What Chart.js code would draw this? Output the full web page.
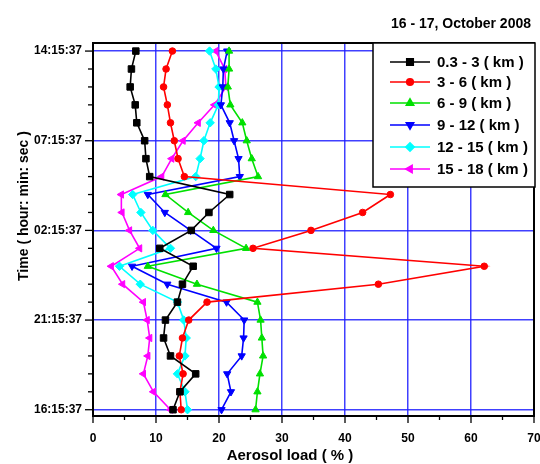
<!DOCTYPE html>
<html>
<head>
<meta charset="utf-8">
<script src="https://cdn.jsdelivr.net/npm/chart.js@4/dist/chart.umd.min.js"></script>
<style>
  body { margin: 0; background: #fff; }
  canvas { display: block; }
</style>
</head>
<body>
<canvas id="chart" width="540" height="464"></canvas>
<script>
// Данные: индекс 0 = 16:15:37 (низ), 20 = 14:15:37 (верх)
const timeTickLabels = ['16:15:37', '21:15:37', '02:15:37', '07:15:37', '14:15:37'];
const seriesNames = ['0.3 - 3 ( km )', '3 - 6 ( km )', '6 - 9 ( km )', '9 - 12 ( km )', '12 - 15 ( km )', '15 - 18 ( km )'];

const load03_3 = [12.7, 13.8, 16.3, 12.3, 11.2, 11.5, 13.4, 14.2, 15.9, 10.6, 15.6, 18.4, 21.7, 9.0, 8.4, 8.2, 6.95, 6.7, 5.9, 6.1, 6.8];
const load3_6 = [14.0, 13.8, 14.3, 13.7, 14.2, 15.2, 18.1, 45.3, 62.1, 25.4, 34.6, 42.8, 47.2, 14.5, 13.5, 12.9, 12.3, 11.8, 11.2, 11.6, 12.6];
const load6_9 = [25.8, 26.1, 26.5, 27.0, 26.8, 26.6, 26.1, 16.5, 8.7, 24.3, 19.1, 15.1, 11.5, 26.2, 25.2, 24.4, 23.7, 21.8, 21.4, 21.6, 21.6];
const load9_12 = [20.4, 21.9, 21.3, 23.6, 23.9, 24.0, 21.2, 11.8, 6.2, 19.6, 15.5, 11.4, 8.7, 23.3, 23.1, 22.4, 21.7, 20.3, 20.6, 20.7, 21.3];
const load12_15 = [15.0, 14.6, 13.4, 14.6, 14.8, 14.4, 13.4, 7.5, 4.2, 12.3, 9.5, 7.6, 6.3, 16.3, 17.0, 17.6, 18.6, 19.9, 20.0, 19.5, 18.5];
const load15_18 = [12.3, 9.6, 8.0, 8.7, 9.0, 8.6, 8.0, 4.7, 2.9, 7.4, 5.8, 4.6, 4.5, 10.9, 12.5, 14.3, 16.7, 19.3, 21.1, 20.9, 19.5];

const FONT = "'Liberation Sans', Arial, sans-serif";
const GRID_BLUE = 'rgba(30, 30, 255, 0.85)';

function toPoints(values) {
    return values.map((v, i) => ({ x: v, y: i }));
}

function makeDataset(label, values, color, style, radius, rotation) {
    return {
        label: label,
        data: toPoints(values),
        borderColor: color,
        backgroundColor: color,
        borderWidth: 1.6,
        pointStyle: style,
        pointRadius: radius,
        pointRotation: rotation || 0,
        pointBorderWidth: 1,
        pointBorderColor: color,
        pointBackgroundColor: color,
        showLine: true,
        tension: 0
    };
}

const datasets = [
    makeDataset(seriesNames[0], load03_3, '#000000', 'rect', 4.6),
    makeDataset(seriesNames[1], load3_6, '#ff0000', 'circle', 3.3),
    makeDataset(seriesNames[2], load6_9, '#00e000', 'triangle', 4.2),
    makeDataset(seriesNames[3], load9_12, '#0000ff', 'triangle', 4.2, 180),
    makeDataset(seriesNames[4], load12_15, '#00ffff', 'rectRot', 4.2),
    makeDataset(seriesNames[5], load15_18, '#ff00ff', 'triangle', 4.2, 270)
];

// Рамка, засечки, подписи осей, легенда
const decorPlugin = {
    id: 'decor',
    afterDraw(chart) {
        const ctx = chart.ctx;
        const area = chart.chartArea;
        const xs = chart.scales.x;
        const ys = chart.scales.y;
        ctx.save();

        // засечки по X
        ctx.strokeStyle = '#000';
        ctx.lineWidth = 1.3;
        for (let v = 0; v <= 70; v += 5) {
            const px = xs.getPixelForValue(v);
            const len = v % 10 === 0 ? 7 : 4;
            ctx.beginPath();
            ctx.moveTo(px, area.bottom);
            ctx.lineTo(px, area.bottom + len);
            ctx.stroke();
        }
        // засечки по Y
        for (let i = 0; i <= 20; i++) {
            const py = ys.getPixelForValue(i);
            const len = i % 5 === 0 ? 8 : 5;
            ctx.beginPath();
            ctx.moveTo(area.left, py);
            ctx.lineTo(area.left - len, py);
            ctx.stroke();
        }

        // рамка
        ctx.lineWidth = 2;
        ctx.strokeRect(area.left, area.top, area.right - area.left, area.bottom - area.top);

        // подписи осей
        ctx.fillStyle = '#000';
        ctx.font = 'bold 15px ' + FONT;
        ctx.textAlign = 'center';
        ctx.textBaseline = 'middle';
        ctx.fillText('Aerosol load ( % )', 290, 456);

        ctx.save();
        ctx.translate(24, 206);
        ctx.rotate(-Math.PI / 2);
        ctx.font = 'bold 14px ' + FONT;
        ctx.fillText('Time ( hour: min: sec )', 0, 0);
        ctx.restore();

        // заголовок
        ctx.font = 'bold 14px ' + FONT;
        ctx.textAlign = 'right';
        ctx.fillText('16 - 17, October 2008', 531, 24);

        // легенда
        const lx = 373, ly = 43, lw = 162, lh = 144;
        ctx.fillStyle = '#fff';
        ctx.fillRect(lx, ly, lw, lh);
        ctx.strokeStyle = '#000';
        ctx.lineWidth = 1.5;
        ctx.strokeRect(lx, ly, lw, lh);

        const rows = [62, 82, 103, 125, 147, 169];
        ctx.textAlign = 'left';
        ctx.font = 'bold 15px ' + FONT;
        chart.data.datasets.forEach((ds, k) => {
            const y = rows[k];
            ctx.strokeStyle = ds.borderColor;
            ctx.lineWidth = 1.6;
            ctx.beginPath();
            ctx.moveTo(390, y);
            ctx.lineTo(430, y);
            ctx.stroke();
            ctx.fillStyle = ds.backgroundColor;
            Chart.helpers.drawPoint(ctx, {
                pointStyle: ds.pointStyle,
                radius: ds.pointRadius,
                rotation: ds.pointRotation,
                borderWidth: 1
            }, 410, y);
            ctx.fillStyle = '#000';
            ctx.fillText(ds.label, 437, y + 1);
        });

        ctx.restore();
    }
};

const ctx = document.getElementById('chart').getContext('2d');
const chart = new Chart(ctx, {
    type: 'line',
    data: { datasets: datasets },
    options: {
        responsive: false,
        animation: false,
        layout: { padding: { top: 43, right: 6, left: 0, bottom: 0 } },
        plugins: {
            legend: { display: false },
            tooltip: { enabled: false }
        },
        scales: {
            x: {
                type: 'linear',
                min: 0,
                max: 70,
                afterBuildTicks: s => {
                    s.ticks = [];
                    for (let v = 0; v <= 70; v += 5) s.ticks.push({ value: v });
                },
                afterFit: s => {
                    s.height = 48;
                    s.paddingLeft = 0;
                    s.paddingRight = 0;
                },
                border: { display: false },
                grid: {
                    drawTicks: false,
                    lineWidth: 1.5,
                    color: c => (c.tick && c.tick.value % 10 === 0 && c.tick.value > 0 && c.tick.value < 70) ? GRID_BLUE : 'rgba(0,0,0,0)'
                },
                ticks: {
                    autoSkip: false,
                    maxRotation: 0,
                    padding: 15,
                    color: '#000',
                    font: { family: FONT, size: 12, weight: 'bold' },
                    callback: v => (v % 10 === 0 ? String(v) : '')
                }
            },
            y: {
                type: 'linear',
                min: -0.35,
                max: 20.45,
                afterBuildTicks: s => {
                    s.ticks = [];
                    for (let i = 0; i <= 20; i++) s.ticks.push({ value: i });
                },
                afterFit: s => {
                    s.width = 93;
                    s.paddingTop = 0;
                    s.paddingBottom = 0;
                },
                border: { display: false },
                grid: {
                    drawTicks: false,
                    lineWidth: 1.5,
                    color: c => (c.tick && c.tick.value % 5 === 0) ? GRID_BLUE : 'rgba(0,0,0,0)'
                },
                ticks: {
                    autoSkip: false,
                    padding: 11,
                    color: '#000',
                    font: { family: FONT, size: 12, weight: 'bold' },
                    callback: v => (v % 5 === 0 ? timeTickLabels[v / 5] : '')
                }
            }
        }
    },
    plugins: [decorPlugin]
});
</script>
</body>
</html>
